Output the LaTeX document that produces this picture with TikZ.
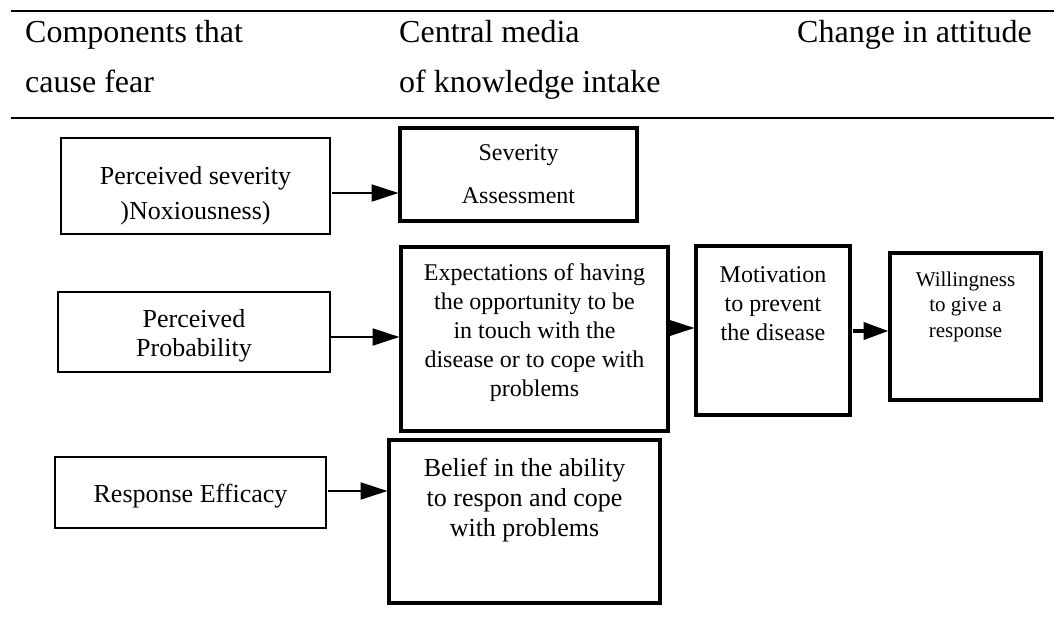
\documentclass[tikz,border=0pt]{standalone}
\usepackage{fontspec}
\setmainfont{Liberation Serif}
\usetikzlibrary{arrows.meta}
\newcommand\bxt[6]{\parbox[c][#2pt][t]{#1pt}{\centering\fontsize{#4}{#5}\selectfont\rule{0pt}{#3pt}#6\par}}
\begin{document}
\begin{tikzpicture}[x=1pt,y=-1pt,
  thinbox/.style={draw, line width=1.8pt, inner sep=0pt, outer sep=0pt},
  thickbox/.style={draw, line width=3.2pt, inner sep=0pt, outer sep=0pt},
  conn/.style={line width=2.2pt, -{Triangle[length=27pt,width=17pt]}},
  hrule/.style={line width=1.6pt},
  headtext/.style={anchor=base west, inner sep=0pt, font=\fontsize{32}{38}\selectfont}]
\useasboundingbox (0,0) rectangle (1054,641);
\fill[white] (0,0) rectangle (1054,641);
% header
\coordinate (r1a) at (11,11);
\coordinate (r1b) at (1054,11);
\coordinate (r2a) at (11,118);
\coordinate (r2b) at (1054,118);
\draw[hrule] (r1a) -- (r1b);
\draw[hrule] (r2a) -- (r2b);
\node[headtext] (h1a) at (25,42) {Components that};
\node[headtext] (h1b) at (25,92) {cause fear};
\node[headtext] (h2a) at (399,42) {Central media};
\node[headtext] (h2b) at (399,92) {of knowledge intake};
\node[headtext] (h3) at (797,42) {Change in attitude};
% boxes
\node[thinbox] (ps) at (195.5,186) {\bxt{269}{96}{46}{26}{35}{Perceived severity\\)Noxiousness)}};
\node[thickbox] (sa) at (518.5,174.5) {\bxt{237}{93}{32}{24}{43}{Severity\\Assessment}};
\node[thinbox] (pp) at (194,332) {\bxt{272}{80}{35}{26}{29}{Perceived\\Probability}};
\node[thickbox] (ex) at (534.5,339) {\bxt{267}{184}{33}{24}{29}{Expectations of having\\the opportunity to be\\in touch with the\\disease or to cope with\\problems}};
\node[thickbox] (mo) at (773,330.5) {\bxt{154}{169}{36}{24}{29}{Motivation\\to prevent\\the disease}};
\node[thickbox] (wi) at (965.5,326.5) {\bxt{151}{147}{33}{21}{25.5}{Willingness\\to give a\\response}};
\node[thinbox] (re) at (190.5,492.5) {\bxt{271}{71}{45}{26}{30}{Response Efficacy}};
\node[thickbox] (be) at (524.5,521.5) {\bxt{271}{163}{36}{26}{30}{Belief in the ability\\to respon and cope\\with problems}};
% connectors
\draw[conn, shorten <=2pt, shorten >=1.5pt] (ps.east |- 0,193) -- (sa.west |- 0,193);
\draw[conn, shorten >=1.5pt] (pp.east |- 0,337) -- (ex.west |- 0,337);
\draw[conn, shorten >=1.5pt] (ex.east |- 0,328) -- (mo.west |- 0,328);
\draw[conn, line width=4pt, -{Triangle[length=25pt,width=17pt]}, shorten <=3pt, shorten >=1.5pt] (mo.east |- 0,331) -- (wi.west |- 0,331);
\draw[conn, shorten <=2pt, shorten >=1.5pt] (re.east |- 0,491) -- (be.west |- 0,491);
\end{tikzpicture}
\end{document}
